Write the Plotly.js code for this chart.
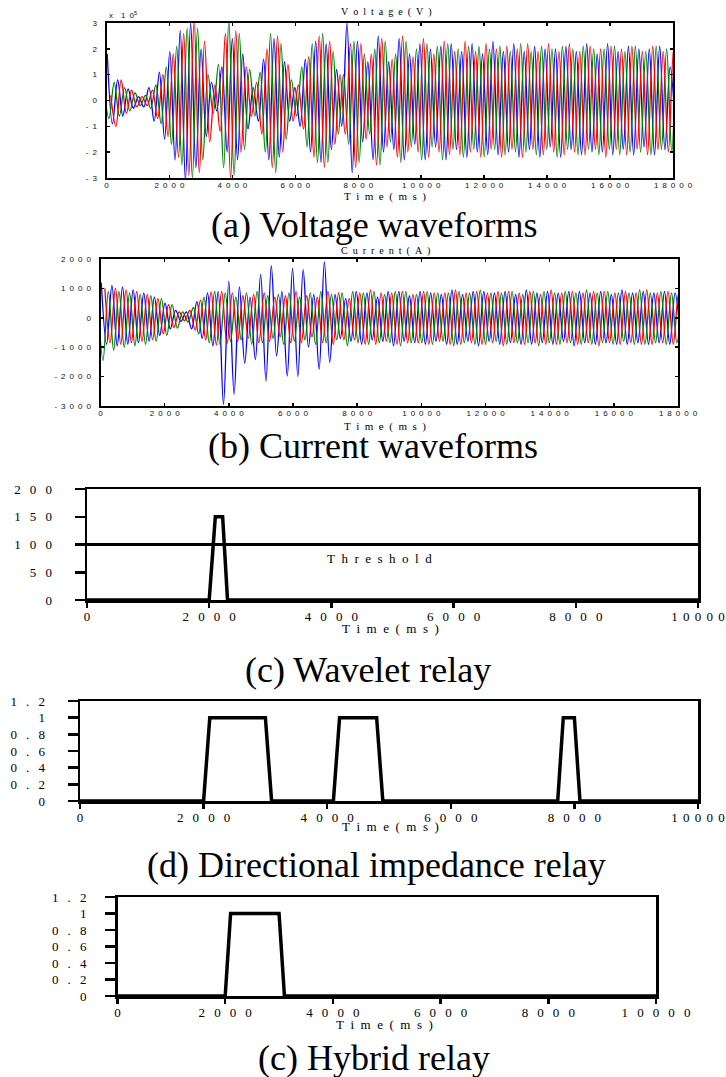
<!DOCTYPE html>
<html><head><meta charset="utf-8">
<script src="https://cdn.plot.ly/plotly-3.0.1.min.js"></script>
<style>body{margin:0;background:#fff}</style></head>
<body><div id="chart" style="width:726px;height:1077px"></div>
<script>
// ---------------- DATA ----------------
// Three-phase waveforms: successive half-cycle peak values
const halfCycleMs = 165.6;          // time between successive peaks of one phase
const firstPeakBlue = 24, firstPeakRed = 134, firstPeakGreen = -87;

// (a) Voltage, units of 1e5 V
const voltBlue = [1.8,-0.9,0.8,-0.6,0.45,-0.3,0.15,-0.25,0.5,-0.8,
 1.1,-1.5,1.9,-2.3,2.7,-3.1,3.0,-2.6,2.0,-1.4,
 0.7,-0.4,1.3,-2.0,2.4,-2.3,1.8,-1.1,0.5,-0.8,
 1.6,-2.3,2.4,-2.2,1.5,-0.8,0.5,-1.0,1.6,-2.0,
 2.3,-2.4,2.2,-1.9,1.2,-1.0,3.0,-2.8,2.3,-1.6,
 1.5,-2.3,2.5,-2.0,1.5,-1.9,2.4,-2.3,1.8,-1.7,
 2.2,-2.3,2.0,-1.8,2.1,-2.3,2.2,-1.9,1.9,-2.2,
 2.2,-2.0,1.8,-2.1,2.3,-2.1,1.9,-2.0,2.2,-2.2,
 1.9,-1.9,2.1,-2.2,2.0,-1.8,2.0,-2.2,2.1,-1.9,
 1.9,-2.1,2.2,-2.0,1.8,-2.0,2.2,-2.1,1.9,-1.9,
 2.1,-2.1,2.0,-1.8,2.0,-2.1,2.1,-1.9,1.3,-1.0];
const voltRed = [0.2,-1.0,0.8,-0.5,0.4,-0.25,0.15,-0.2,0.4,-0.7,
 1.0,-1.4,1.8,-2.2,2.6,-2.9,3.1,-2.8,2.3,-1.6,
 0.6,-1.2,2.6,-3.0,2.7,-2.0,1.3,-0.6,0.7,-1.3,
 2.0,-2.6,2.5,-2.0,1.4,-0.8,0.6,-1.1,1.7,-2.2,
 2.5,-2.6,2.3,-1.7,1.0,-1.3,2.2,-2.6,2.2,-1.5,
 1.8,-2.5,2.4,-1.8,1.6,-2.2,2.5,-2.0,1.7,-2.0,
 2.4,-2.2,1.8,-2.0,2.3,-2.1,1.9,-2.1,2.3,-2.0,
 1.9,-2.2,2.2,-1.9,2.0,-2.2,2.1,-1.9,2.0,-2.2,
 2.2,-1.9,1.9,-2.1,2.2,-2.0,1.9,-2.1,2.2,-2.0,
 1.9,-2.1,2.1,-1.9,2.0,-2.2,2.1,-1.9,2.0,-2.1,
 2.1,-1.9,1.9,-2.1,2.1,-1.9,1.9,-2.0,2.0,-1.6];
const voltGreen = [0.6,-0.7,0.7,-0.6,0.5,-0.4,0.3,-0.2,0.2,-0.3,
 0.6,-0.9,1.3,-1.7,2.1,-2.5,2.8,-3.0,2.8,-2.3,
 1.0,-0.5,1.4,-2.6,3.1,-2.9,2.6,-1.9,1.2,-0.6,
 1.1,-2.0,2.6,-2.8,2.2,-1.5,0.8,-0.6,1.3,-1.8,
 2.2,-2.4,2.6,-2.4,1.9,-1.3,1.0,-1.7,2.3,-2.4,
 1.8,-1.3,2.0,-2.5,2.3,-1.6,1.8,-2.4,2.3,-1.8,
 2.0,-2.3,2.2,-1.8,2.1,-2.3,2.2,-1.9,2.0,-2.2,
 2.1,-1.9,2.1,-2.2,2.0,-1.9,2.1,-2.1,1.9,-2.0,
 2.2,-2.0,1.9,-2.1,2.1,-1.9,2.0,-2.2,2.1,-1.9,
 2.0,-2.1,2.1,-1.9,2.0,-2.1,2.0,-1.9,2.1,-2.1,
 1.9,-2.0,2.1,-2.0,1.9,-2.1,2.1,-1.9,2.0,-2.0,
 1.8,-1.5];

// (b) Current, A
const curBlue = [1200,-900,1100,-950,1050,-900,950,-850,850,-800,
 700,-600,500,-380,250,-120,200,-380,550,-700,
 850,-950,900,-2950,1250,-2600,1050,-1550,700,-1420,
 1480,-2150,1770,-1300,900,-1980,1680,-2000,1640,-1000,
 800,-1750,1900,-1520,800,-700,650,-800,900,-900,
 850,-750,700,-800,900,-950,900,-800,750,-850,
 900,-900,850,-800,800,-900,950,-900,800,-800,
 900,-950,900,-800,850,-900,900,-850,800,-900,
 950,-900,850,-850,900,-900,850,-800,900,-950,
 900,-850,850,-900,900,-850,800,-900,950,-900,
 850,-850,900,-900,850,-850,900,-900,850,-700];
const curRed = [1000,-850,1000,-900,950,-850,900,-800,800,-750,
 650,-550,450,-330,200,-100,250,-420,600,-750,
 880,-920,900,-880,850,-800,750,-700,800,-850,
 850,-800,700,-650,750,-850,900,-850,750,-650,
 700,-850,900,-900,850,-750,650,-750,850,-900,
 950,-900,850,-800,850,-900,900,-850,800,-850,
 900,-900,850,-800,850,-900,950,-900,850,-850,
 900,-900,850,-850,900,-950,900,-850,850,-900,
 900,-850,800,-900,950,-900,850,-850,900,-900,
 850,-850,900,-950,900,-850,850,-900,900,-850,
 850,-900,950,-900,850,-850,900,-900,850,-900];
const curGreen = [800,-1450,900,-1100,900,-1000,850,-950,800,-900,
 750,-800,650,-600,450,-350,200,-150,350,-550,
 700,-850,900,-900,850,-800,700,-750,850,-900,
 900,-850,750,-700,800,-900,850,-800,700,-750,
 850,-900,900,-850,800,-750,850,-950,900,-850,
 850,-900,900,-850,800,-850,900,-950,900,-850,
 800,-850,900,-900,850,-800,850,-950,900,-850,
 850,-900,950,-900,850,-800,850,-900,900,-850,
 800,-850,900,-950,900,-850,850,-900,900,-850,
 850,-900,950,-900,850,-850,900,-900,850,-800,
 850,-900,950,-900,850,-850,900,-900,850,-850,900];

// (c) Wavelet relay
const waveletT = [0, 2000, 2100, 2220, 2300, 10000];
const waveletV = [0, 0, 150, 150, 0, 0];
const thresholdT = [0, 10000];
const thresholdV = [100, 100];
// (d) Directional impedance relay
const dirT = [0, 2000, 2100, 3000, 3100, 4100, 4200, 4800, 4900, 7730, 7820, 8000, 8090, 10000];
const dirV = [0, 0, 1, 1, 0, 0, 1, 1, 0, 0, 1, 1, 0, 0];
// (e) Hybrid relay
const hybT = [0, 2000, 2100, 3000, 3100, 10000];
const hybV = [0, 0, 1, 1, 0, 0];

// tick values / labels
const waveTicks = [0, 2000, 4000, 6000, 8000, 10000, 12000, 14000, 16000, 18000];
const voltTicks = [-3, -2, -1, 0, 1, 2, 3];
const curTicks = [-3000, -2000, -1000, 0, 1000, 2000];
const relayTicks = [0, 2000, 4000, 6000, 8000, 10000];
const wavTicksY = [0, 50, 100, 150, 200];
const binTicksY = [0, 0.2, 0.4, 0.6, 0.8, 1, 1.2];
const binTickLabels = ['0', '0.2', '0.4', '0.6', '0.8', '1', '1.2'];

// ---------------- LAYOUT HELPERS ----------------
const W = 726, H = 1077;
const fx = p => p / W, fy = p => 1 - p / H;
const spaced = (s, sep) => String(s).split('').join(sep);
const EN = '\u2002', THIN = '\u2009';

const blue = '#0000ff', green = '#008000', red = '#ff0000';
function wave(y, x0, color, xa, ya) {
  return {type: 'scatter', mode: 'lines', y: y, x0: x0, dx: halfCycleMs,
    line: {color: color, width: 1.3, shape: 'spline', smoothing: 1},
    xaxis: xa, yaxis: ya, hoverinfo: 'skip', showlegend: false};
}
function relay(x, y, xa, ya, w) {
  return {type: 'scatter', mode: 'lines', x: x, y: y,
    line: {color: '#000', width: w || 3.5}, xaxis: xa, yaxis: ya, hoverinfo: 'skip', showlegend: false};
}

const data = [
  wave(voltBlue, firstPeakBlue, blue, 'x', 'y'),
  wave(voltGreen, firstPeakGreen, green, 'x', 'y'),
  wave(voltRed, firstPeakRed, red, 'x', 'y'),
  wave(curBlue, firstPeakBlue, blue, 'x2', 'y2'),
  wave(curGreen, firstPeakGreen, green, 'x2', 'y2'),
  wave(curRed, firstPeakRed, red, 'x2', 'y2'),
  relay(thresholdT, thresholdV, 'x3', 'y3', 3),
  relay(waveletT, waveletV, 'x3', 'y3'),
  relay(dirT, dirV, 'x4', 'y4'),
  relay(hybT, hybV, 'x5', 'y5')
];

const sansTick = {family: 'Liberation Sans, Arial, sans-serif', size: 8, color: '#111'};
const serifTick = {family: 'Liberation Serif, Times New Roman, serif', size: 13, color: '#000'};
function waveAxis(dom, range, vals, anchor, isY) {
  return {domain: dom, range: range, tickmode: 'array', tickvals: vals,
    ticktext: vals.map(v => spaced(v, EN)), anchor: anchor,
    showline: true, linewidth: 2, linecolor: '#000', mirror: 'ticks',
    ticks: 'inside', ticklen: 3, tickwidth: 1.5, tickcolor: '#000',
    showgrid: false, zeroline: false, tickfont: sansTick,
    ticklabelstandoff: isY ? 6 : -2, ticklabeloverflow: 'allow', fixedrange: true};
}
// tightLast: narrower letter spacing on the last label so it stays inside the page
function relayAxis(dom, range, vals, labels, anchor, isY, standoff, tightLast) {
  const txt = labels.map(v => spaced(v, EN + THIN));
  if (tightLast) txt[txt.length - 1] = spaced(labels[labels.length - 1], THIN + THIN);
  return {domain: dom, range: range, tickmode: 'array', tickvals: vals,
    ticktext: txt, anchor: anchor,
    showline: true, linewidth: 2.5, linecolor: '#000', mirror: true,
    ticks: 'outside', ticklen: isY ? 10 : 5, tickwidth: 2.5, tickcolor: '#000',
    showgrid: false, zeroline: false, tickfont: serifTick,
    ticklabelstandoff: standoff, ticklabeloverflow: 'allow', fixedrange: true};
}

const serif = (size) => ({family: 'Liberation Serif, Times New Roman, serif', size: size, color: '#000'});
function ann(text, xpx, ypx, font, xanchor) {
  return {text: text, x: fx(xpx), y: fy(ypx), xref: 'paper', yref: 'paper',
    xanchor: xanchor || 'center', yanchor: 'middle', showarrow: false, font: font};
}
const timeLabel = spaced('Time(ms)', EN);

const layout = {
  width: W, height: H, margin: {l: 0, r: 0, t: 0, b: 0},
  paper_bgcolor: '#fff', plot_bgcolor: '#fff', showlegend: false,
  xaxis: waveAxis([fx(106.5), fx(673)], [0, 18000], waveTicks, 'y', false),
  yaxis: waveAxis([fy(178), fy(23)], [-3, 3], voltTicks, 'x', true),
  xaxis2: waveAxis([fx(100.5), fx(678)], [0, 18000], waveTicks, 'y2', false),
  yaxis2: waveAxis([fy(406), fy(259)], [-3000, 2000], curTicks, 'x2', true),
  xaxis3: relayAxis([fx(87), fx(698)], [0, 10000], relayTicks, relayTicks, 'y3', false, -2, true),
  yaxis3: relayAxis([fy(600), fy(489)], [0, 200], wavTicksY, wavTicksY, 'x3', true, 20),
  xaxis4: relayAxis([fx(80), fx(698)], [0, 10000], relayTicks, relayTicks, 'y4', false, -2, true),
  yaxis4: relayAxis([fy(801), fy(701)], [0, 1.2], binTicksY, binTickLabels, 'x4', true, 20),
  xaxis5: relayAxis([fx(117.5), fx(656)], [0, 10000], relayTicks, relayTicks, 'y5', false, -2),
  yaxis5: relayAxis([fy(996), fy(897)], [0, 1.2], binTicksY, binTickLabels, 'x5', true, 16),
  annotations: [
    ann(spaced('Voltage(V)', EN), 386, 12, serif(10)),
    ann('x' + EN + EN + '1' + EN + '0<sup>5</sup>', 107, 15, sansTick, 'left'),
    ann(timeLabel, 385, 197, serif(11)),
    ann('(a) Voltage waveforms', 375, 225, serif(36)),
    ann(spaced('Current(A)', EN), 385, 251, serif(10)),
    ann(timeLabel, 385, 427, serif(11)),
    ann('(b) Current waveforms', 373, 446, serif(36)),
    ann(spaced('Threshold', EN), 380, 558, serif(13)),
    ann(timeLabel, 390, 628, serif(13)),
    ann('(c) Wavelet relay', 368, 670, serif(36)),
    ann(timeLabel, 390, 826, serif(13)),
    ann('(d) Directional impedance relay', 376, 865, serif(36)),
    ann(timeLabel, 384, 1024, serif(13)),
    ann('(c) Hybrid relay', 374, 1058, serif(36))
  ]
};

Plotly.newPlot('chart', data, layout, {staticPlot: true, displayModeBar: false});
</script></body></html>
